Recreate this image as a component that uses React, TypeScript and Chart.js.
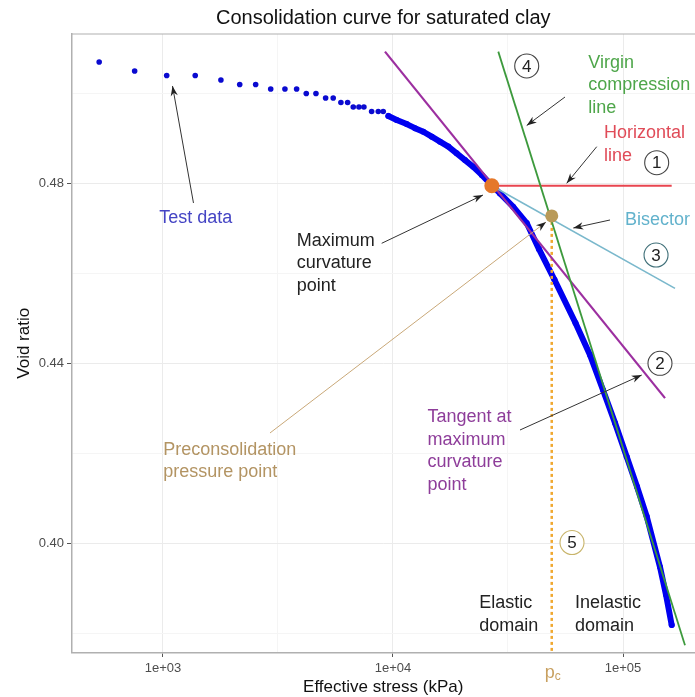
import React, { useEffect, useRef } from "react";
import { Chart, registerables } from "chart.js";
Chart.register(...registerables);

// ---- data (effective stress in kPa, void ratio) ----
const sparseStress = [528, 753, 1038, 1381, 1786, 2156, 2529, 2940, 3390, 3811, 4197, 4625, 5095, 5497, 5937, 6350, 6718, 7112, 7475, 8075, 8630, 9070];
const sparseVoid = [0.507, 0.505, 0.504, 0.504, 0.503, 0.502, 0.502, 0.501, 0.501, 0.501, 0.5, 0.5, 0.499, 0.499, 0.498, 0.498, 0.497, 0.497, 0.497, 0.496, 0.496, 0.496];

const curveStress = [9550, 10380, 11470, 12470, 13550, 14740, 16010, 17400, 18920, 20560, 22340, 24310, 26410, 29170, 33340, 38140, 43130, 50380, 62160, 71870, 81850, 92300, 103800, 115100, 126800, 144800, 153800, 162800];
const curveVoid = [0.495, 0.4941, 0.4932, 0.4923, 0.4915, 0.4904, 0.4893, 0.4882, 0.4867, 0.4852, 0.4837, 0.4819, 0.48, 0.4778, 0.4748, 0.4712, 0.4654, 0.4586, 0.449, 0.4419, 0.4341, 0.4268, 0.4193, 0.4126, 0.406, 0.3948, 0.3886, 0.3819];

const maxCurvatureStress = [26900];
const maxCurvatureVoid = [0.4795];
const preconStress = [49000];
const preconVoid = [0.4728];

const virginStress = [28690, 186000];
const virginVoid = [0.5093, 0.3774];
const tangentStress = [9230, 152300];
const tangentVoid = [0.5093, 0.4323];
const horizontalStress = [26900, 162800];
const horizontalVoid = [0.4795, 0.4795];
const bisectorStress = [26900, 168300];
const bisectorVoid = [0.4795, 0.4567];
const pcLineStress = [49000, 49000];
const pcLineVoid = [0.4728, 0.36];

const xTickValues = [1000, 3162.28, 10000, 31622.8, 100000];
const xTickLabels = ["1e+03", "", "1e+04", "", "1e+05"];
const yTickValues = [0.38, 0.4, 0.42, 0.44, 0.46, 0.48, 0.5];
const yTickLabels = ["", "0.40", "", "0.44", "", "0.48", ""];

const X_MIN = 400.2;
const X_MAX = 205600;
const Y_MIN = 0.37578;
const Y_MAX = 0.51322;

// ---- annotations (data coordinates) ----
type Txt = { lines: string[]; x: number; y: number; color: string; align: CanvasTextAlign };
const texts: Txt[] = [
  { lines: ["Test data"], x: 1389, y: 0.47233, color: "#4444c4", align: "center" },
  { lines: ["Maximum", "curvature", "point"], x: 3814, y: 0.46722, color: "#222222", align: "left" },
  { lines: ["Preconsolidation", "pressure point"], x: 1003, y: 0.42078, color: "#b39463", align: "left" },
  { lines: ["Tangent at", "maximum", "curvature", "point"], x: 14125, y: 0.428, color: "#8e3d9a", align: "left" },
  { lines: ["Virgin", "compression", "line"], x: 70650, y: 0.50684, color: "#4ea64a", align: "left" },
  { lines: ["Horizontal", "line"], x: 82660, y: 0.49116, color: "#e04b58", align: "left" },
  { lines: ["Bisector"], x: 102000, y: 0.47189, color: "#62b2cc", align: "left" },
  { lines: ["Elastic", "domain"], x: 23730, y: 0.38671, color: "#222222", align: "left" },
  { lines: ["Inelastic", "domain"], x: 61840, y: 0.38671, color: "#222222", align: "left" },
];
const arrows = [
  { x1: 1357, y1: 0.47567, x2: 1100, y2: 0.50167, color: "#333333" },
  { x1: 8930, y1: 0.46671, x2: 24620, y2: 0.47744, color: "#333333" },
  { x1: 55950, y1: 0.49922, x2: 38140, y2: 0.49289, color: "#333333" },
  { x1: 76880, y1: 0.48818, x2: 56910, y2: 0.48004, color: "#333333" },
  { x1: 87810, y1: 0.47189, x2: 60800, y2: 0.47011, color: "#333333" },
  { x1: 35660, y1: 0.42522, x2: 120600, y2: 0.43744, color: "#333333" },
  { x1: 2919, y1: 0.42456, x2: 46270, y2: 0.47144, color: "#c9a878" },
];
const circles = [
  { label: "1", x: 140100, y: 0.48462, color: "#444444" },
  { label: "2", x: 144800, y: 0.44004, color: "#444444" },
  { label: "3", x: 139200, y: 0.46411, color: "#3f6f78" },
  { label: "4", x: 38140, y: 0.50611, color: "#444444" },
  { label: "5", x: 60020, y: 0.40022, color: "#c8b46a" },
];

const FONT = '"Liberation Sans", Arial, Helvetica, sans-serif';

function drawArrow(ctx: CanvasRenderingContext2D, x1: number, y1: number, x2: number, y2: number, color: string) {
  ctx.save();
  ctx.strokeStyle = color;
  ctx.lineWidth = 1;
  ctx.beginPath();
  ctx.moveTo(x1, y1);
  ctx.lineTo(x2, y2);
  ctx.stroke();
  const a = Math.atan2(y2 - y1, x2 - x1);
  const L = 10, W = 3.6;
  ctx.fillStyle = "#222222";
  ctx.beginPath();
  ctx.moveTo(x2, y2);
  ctx.lineTo(x2 - L * Math.cos(a) + W * Math.sin(a), y2 - L * Math.sin(a) - W * Math.cos(a));
  ctx.lineTo(x2 - 0.7 * L * Math.cos(a), y2 - 0.7 * L * Math.sin(a));
  ctx.lineTo(x2 - L * Math.cos(a) - W * Math.sin(a), y2 - L * Math.sin(a) + W * Math.cos(a));
  ctx.closePath();
  ctx.fill();
  ctx.restore();
}

const annotationPlugin = {
  id: "consolidationAnnotations",
  afterDatasetsDraw(chart: any) {
    const { ctx, scales, chartArea } = chart;
    const sx = scales.x, sy = scales.y;
    ctx.save();
    ctx.strokeStyle = "#b0b0b0";
    ctx.lineWidth = 1.2;
    ctx.beginPath();
    ctx.moveTo(chartArea.left, chartArea.top);
    ctx.lineTo(chartArea.right, chartArea.top);
    ctx.stroke();

    for (const a of arrows) {
      drawArrow(ctx, sx.getPixelForValue(a.x1), sy.getPixelForValue(a.y1), sx.getPixelForValue(a.x2), sy.getPixelForValue(a.y2), a.color);
    }
    ctx.textBaseline = "middle";
    for (const t of texts) {
      ctx.font = `18px ${FONT}`;
      ctx.fillStyle = t.color;
      ctx.textAlign = t.align;
      const px = sx.getPixelForValue(t.x);
      const py = sy.getPixelForValue(t.y);
      t.lines.forEach((ln, i) => ctx.fillText(ln, px, py + i * 22.5));
    }
    for (const c of circles) {
      const px = sx.getPixelForValue(c.x);
      const py = sy.getPixelForValue(c.y);
      ctx.beginPath();
      ctx.arc(px, py, 12, 0, Math.PI * 2);
      ctx.fillStyle = "#ffffff";
      ctx.fill();
      ctx.strokeStyle = c.color;
      ctx.lineWidth = 1.1;
      ctx.stroke();
      ctx.fillStyle = "#222222";
      ctx.textAlign = "center";
      ctx.font = `17px ${FONT}`;
      ctx.fillText(c.label, px, py + 1);
    }
    ctx.restore();
  },
  afterDraw(chart: any) {
    const { ctx, chartArea, scales } = chart;
    const cx = (chartArea.left + chartArea.right) / 2;
    ctx.save();
    ctx.fillStyle = "#111111";
    ctx.textAlign = "center";
    ctx.textBaseline = "middle";
    ctx.font = `20px ${FONT}`;
    ctx.fillText("Consolidation curve for saturated clay", cx, 18);
    ctx.font = `17px ${FONT}`;
    ctx.fillText("Effective stress (kPa)", cx, 687);
    ctx.save();
    ctx.translate(24, (chartArea.top + chartArea.bottom) / 2);
    ctx.rotate(-Math.PI / 2);
    ctx.fillText("Void ratio", 0, 0);
    ctx.restore();
    const pcx = scales.x.getPixelForValue(preconStress[0]);
    ctx.fillStyle = "#c8a060";
    ctx.textAlign = "right";
    ctx.font = `18px ${FONT}`;
    ctx.fillText("p", pcx + 3, 673);
    ctx.textAlign = "left";
    ctx.font = `12px ${FONT}`;
    ctx.fillText("c", pcx + 3, 677);
    ctx.restore();
  },
};

function pts(xs: number[], ys: number[]) {
  return xs.map((x, i) => ({ x, y: ys[i] }));
}

export default function App() {
  const ref = useRef<HTMLCanvasElement | null>(null);
  useEffect(() => {
    document.body.style.margin = "0";
    const canvas = ref.current;
    if (!canvas) return;
    const lineDs = (label: string, xs: number[], ys: number[], color: string, width: number, order: number, dash: number[] = []) => ({
      label,
      data: pts(xs, ys),
      showLine: true,
      borderColor: color,
      borderWidth: width,
      borderDash: dash,
      pointRadius: 0,
      order,
    });
    const chart = new Chart(canvas, {
      type: "scatter",
      data: {
        datasets: [
          { label: "Maximum curvature point", data: pts(maxCurvatureStress, maxCurvatureVoid), pointRadius: 7.5, backgroundColor: "#e5782a", borderWidth: 0, order: 0 } as any,
          { label: "Preconsolidation point", data: pts(preconStress, preconVoid), pointRadius: 6.5, backgroundColor: "#b99a58", borderWidth: 0, order: 1 } as any,
          lineDs("Horizontal line", horizontalStress, horizontalVoid, "#e8454f", 2, 3),
          lineDs("Bisector", bisectorStress, bisectorVoid, "#7ab8cc", 1.6, 4),
          lineDs("Virgin compression line", virginStress, virginVoid, "#3d9a3d", 1.8, 2),
          lineDs("Tangent", tangentStress, tangentVoid, "#9c2fa0", 2.2, 5),
          lineDs("pc", pcLineStress, pcLineVoid, "#f0a830", 2.5, 6, [3, 3]),
          { label: "Test data (dense)", data: pts(curveStress, curveVoid), showLine: true, borderColor: "#0000f0", borderWidth: 6, borderJoinStyle: "round", borderCapStyle: "round", pointRadius: 3, pointBackgroundColor: "#0000f0", pointBorderWidth: 0, order: 7 } as any,
          { label: "Test data", data: pts(sparseStress, sparseVoid), pointRadius: 2.8, backgroundColor: "#0a0ad0", borderWidth: 0, order: 8 } as any,
        ],
      },
      options: {
        animation: false,
        responsive: false,
        events: [],
        layout: { autoPadding: false, padding: { top: 34, left: 0, right: 0, bottom: 0 } },
        plugins: { legend: { display: false }, tooltip: { enabled: false }, title: { display: false } },
        scales: {
          x: {
            type: "logarithmic",
            min: X_MIN,
            max: X_MAX,
            afterBuildTicks: (s: any) => { s.ticks = xTickValues.map((v) => ({ value: v })); },
            afterFit: (s: any) => { s.height = 44.5; s.paddingLeft = 0; s.paddingRight = 0; },
            ticks: {
              autoSkip: false,
              maxRotation: 0,
              padding: 4,
              color: "#4d4d4d",
              font: { family: FONT, size: 13 },
              callback: (_v: any, i: number) => xTickLabels[i],
            },
            grid: {
              color: (c: any) => (xTickLabels[c.index] ? "#ebebeb" : "#f5f5f5"),
              tickColor: (c: any) => (xTickLabels[c.index] ? "#555555" : "rgba(0,0,0,0)"),
              tickLength: 4.5,
              lineWidth: 1,
            },
            border: { display: true, color: "#b0b0b0", width: 1.5 },
          },
          y: {
            type: "linear",
            min: Y_MIN,
            max: Y_MAX,
            afterBuildTicks: (s: any) => { s.ticks = yTickValues.map((v) => ({ value: v })); },
            afterFit: (s: any) => { s.width = 71.5; s.paddingTop = 0; s.paddingBottom = 0; },
            ticks: {
              autoSkip: false,
              padding: 3,
              color: "#4d4d4d",
              font: { family: FONT, size: 13 },
              callback: (_v: any, i: number) => yTickLabels[i],
            },
            grid: {
              color: (c: any) => (yTickLabels[c.index] ? "#ebebeb" : "#f5f5f5"),
              tickColor: (c: any) => (yTickLabels[c.index] ? "#555555" : "rgba(0,0,0,0)"),
              tickLength: 4.5,
              lineWidth: 1,
            },
            border: { display: true, color: "#b0b0b0", width: 1.5 },
          },
        },
      },
      plugins: [annotationPlugin],
    } as any);
    return () => chart.destroy();
  }, []);
  return <canvas ref={ref} width={695} height={697} style={{ display: "block" }} />;
}
